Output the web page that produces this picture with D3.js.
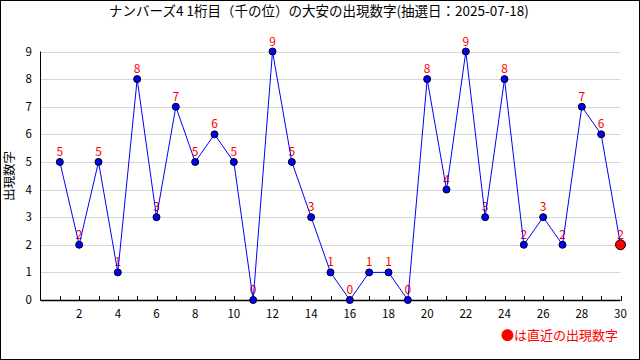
<!DOCTYPE html>
<html><head><meta charset="utf-8">
<script src="https://cdn.jsdelivr.net/npm/d3@7"></script>
<style>body{margin:0;background:#fff}svg{display:block}</style>
</head><body>
<script>
const title = "ナンバーズ4 1桁目（千の位）の大安の出現数字(抽選日：2025-07-18)";
const yLabel = "出現数字";
const legendText = "●は直近の出現数字";
const draws = [1,2,3,4,5,6,7,8,9,10,11,12,13,14,15,16,17,18,19,20,21,22,23,24,25,26,27,28,29,30];
const values = [5,2,5,1,8,3,7,5,6,5,0,9,5,3,1,0,1,1,0,8,4,9,3,8,2,3,2,7,6,2];
const yTicks = [0,1,2,3,4,5,6,7,8,9];
const xLabelTicks = [2,4,6,8,10,12,14,16,18,20,22,24,26,28,30];

const W=640,H=360;
const font = "'Noto Sans CJK JP', 'DejaVu Sans', sans-serif";
const svg = d3.select("body").append("svg").attr("width",W).attr("height",H);
svg.append("rect").attr("x",0.5).attr("y",0.5).attr("width",W-1).attr("height",H-1)
  .attr("fill","#fff").attr("stroke","#000");

const x = d3.scaleLinear().domain([0,30]).range([40.5,620.5]);
const y = d3.scaleLinear().domain([0,9]).range([300,51.5]);

// gridlines
svg.append("g").selectAll("line").data(yTicks.filter(d=>d>0)).join("line")
  .attr("x1",x(0)).attr("x2",x(30)).attr("y1",d=>Math.round(y(d))+0.5).attr("y2",d=>Math.round(y(d))+0.5)
  .attr("stroke","#d8d8d8").attr("stroke-width",1);

// y labels
svg.append("g").selectAll("text").data(yTicks).join("text")
  .attr("x",32).attr("y",d=>y(d)).attr("dy","0.35em").attr("text-anchor","end")
  .attr("font-family",font).attr("font-size",11.5).attr("fill","#000").text(d=>d);

// axes lines
svg.append("line").attr("x1",x(0)).attr("x2",x(0)).attr("y1",y(9)).attr("y2",y(0)+0.5).attr("stroke","#000");
svg.append("line").attr("x1",x(0)).attr("x2",x(30)).attr("y1",Math.round(y(0))+0.5).attr("y2",Math.round(y(0))+0.5).attr("stroke","#000").attr("stroke-width",1.5);

// x ticks
svg.append("g").selectAll("line").data(draws).join("line")
  .attr("x1",d=>Math.round(x(d))+0.5).attr("x2",d=>Math.round(x(d))+0.5)
  .attr("y1",y(0)-4).attr("y2",y(0)+1).attr("stroke","#000");
svg.append("g").selectAll("text").data(xLabelTicks).join("text")
  .attr("x",d=>x(d)).attr("y",318).attr("text-anchor","middle")
  .attr("font-family",font).attr("font-size",11.5).attr("fill","#000").text(d=>d);

// value labels
svg.append("g").selectAll("text").data(draws).join("text")
  .attr("x",d=>x(d)).attr("y",(d,i)=>y(values[i])-6).attr("text-anchor","middle")
  .attr("font-family",font).attr("font-size",12).attr("fill","#ff0000").text((d,i)=>values[i]);

// line
const line = d3.line().x((d,i)=>x(draws[i])).y(d=>y(d));
svg.append("path").datum(values).attr("d",line).attr("fill","none").attr("stroke","#0000ff").attr("stroke-width",1);

// points
svg.append("g").selectAll("circle").data(draws.slice(0,-1)).join("circle")
  .attr("cx",d=>x(d)).attr("cy",(d,i)=>y(values[i])).attr("r",3.5)
  .attr("fill","#0000ff").attr("stroke","#000").attr("stroke-width",1);
const li = draws.length-1;
svg.append("circle").attr("cx",x(draws[li])).attr("cy",y(values[li])).attr("r",5)
  .attr("fill","#ff0000").attr("stroke","#000").attr("stroke-width",1);

// title
svg.append("text").attr("x",319).attr("y",16).attr("text-anchor","middle")
  .attr("font-family",font).attr("font-size",13.5).attr("fill","#000").text(title);

// y label
svg.append("text").attr("transform","translate(14,176) rotate(-90)").attr("text-anchor","middle")
  .attr("font-family",font).attr("font-size",12.5).attr("fill","#000").text(yLabel);

// legend
svg.append("text").attr("x",618).attr("y",340).attr("text-anchor","end")
  .attr("font-family",font).attr("font-size",13).attr("fill","#ff0000").text(legendText);
</script>
</body></html>
